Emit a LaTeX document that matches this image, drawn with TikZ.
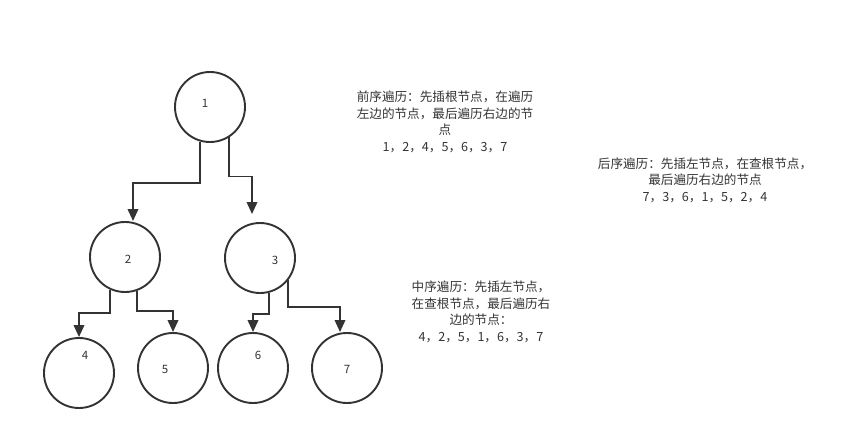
\documentclass[tikz,border=0pt]{standalone}
\usepackage{fontspec}
\setmainfont{Noto Sans CJK SC}
\usetikzlibrary{arrows.meta}
\definecolor{ink}{HTML}{333333}
\tikzset{
  treenode/.style={circle, draw=ink, line width=1.9pt, minimum size=70pt, inner sep=0pt},
  numlab/.style={text=ink, font=\fontsize{11.5}{13}\selectfont},
  link/.style={draw=ink, line width=1.9pt, -{Triangle[length=12pt,width=10.5pt]}},
  note/.style={text=ink, align=center, font=\fontsize{12.6}{16.6}\selectfont, inner sep=0pt}
}
\begin{document}
\begin{tikzpicture}[x=1pt, y=-1pt]
  \useasboundingbox (0,0) rectangle (844,434);

  % tree nodes
  \node[treenode, label={[numlab, xshift=-5pt, yshift=4pt]center:1}] (n1) at (210,107) {};
  \node[treenode, label={[numlab, xshift=3pt, yshift=-2pt]center:2}] (n2) at (125,257) {};
  \node[treenode, label={[numlab, xshift=15pt, yshift=-2pt]center:3}] (n3) at (260,258) {};
  \node[treenode, label={[numlab, xshift=6pt, yshift=18pt]center:4}] (n4) at (79,373) {};
  \node[treenode, label={[numlab, xshift=-8pt, yshift=-1pt]center:5}] (n5) at (173,368) {};
  \node[treenode, label={[numlab, xshift=5pt, yshift=13pt]center:6}] (n6) at (253,368) {};
  \node[treenode, label={[numlab, xshift=0pt, yshift=-1pt]center:7}] (n7) at (347,368) {};

  % elbow connectors
  \draw[link] (n1.-106) -- ++(0,41) -| ([xshift=8pt]n2.north);
  \draw[link] (n1.-58) -- ++(0,39) -| ([shift={(-8,-8)}]n3.north);
  \draw[link] (n2.-114) -- ++(0,23) -| (n4.north);
  \draw[link] (n2.-70) -- ++(0,20) -| (n5.north);
  \draw[link] (n3.-76) -- ++(0,21) -| (n6.north);
  \draw[link] (n3.-38) -- ++(0,27) -| ([xshift=-7pt]n7.north);

  % traversal notes
  \node[note] (pre) at (445,122) {前序遍历：先插根节点，在遍历\\左边的节点，最后遍历右边的节\\点\\1，2，4，5，6，3，7};
  \node[note] (post) at (705,180) {后序遍历：先插左节点，在查根节点，\\最后遍历右边的节点\\7，3，6，1，5，2，4};
  \node[note] (in) at (481,312) {中序遍历：先插左节点，\\在查根节点，最后遍历右\\边的节点：\\4，2，5，1，6，3，7};
\end{tikzpicture}
\end{document}
